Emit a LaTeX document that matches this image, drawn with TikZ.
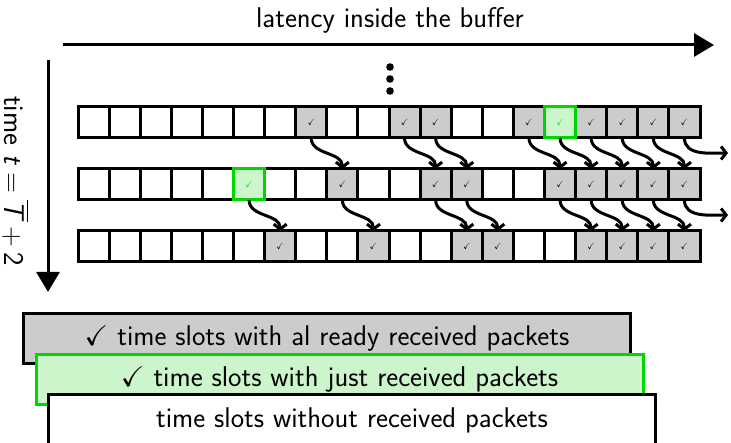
\documentclass[tikz,border=0pt]{standalone}
\usepackage{amssymb}
\usepackage{fontspec}
\usetikzlibrary{arrows.meta}
\definecolor{cellgray}{RGB}{204,204,204}
\definecolor{brightgreen}{RGB}{0,215,0}
\definecolor{palegreen}{RGB}{204,245,204}
\newcommand\tickmark{$\checkmark$}
\newcommand\bufcell[4]{\node[cell,#3] (c#1-#2) at ({78+31.1*(#2+0.5)},{122.5+62*(#1-1)}) {#4};}
\begin{document}
\begin{tikzpicture}[x=1pt,y=-1pt,
  every node/.style={font=\sffamily\fontsize{28.5}{32}\selectfont},
  cell/.style={draw, line width=3pt, minimum width=31.1pt, minimum height=31pt,
    inner sep=0pt, outer sep=0pt, fill=white, font=\fontsize{9}{9}\selectfont},
  graycell/.style={fill=cellgray},
  greencell/.style={fill=palegreen, draw=brightgreen, text=brightgreen},
  flow/.style={line width=3pt, -{Straight Barb[length=5pt,width=13pt]}},
  axis/.style={line width=3pt, -{Triangle[length=20pt,width=23pt]}},
  legend/.style={draw, line width=3pt, minimum width=607pt, minimum height=50pt, inner sep=0pt}
]
\useasboundingbox (0,0) rectangle (731,443);

% axes
\coordinate (hstart) at (63,45);
\coordinate (hend) at (714,45);
\draw[axis] (hstart) -- (hend);
\node[anchor=base] (hlabel) at (390,28) {latency inside the buffer};
\coordinate (vstart) at (48,60);
\coordinate (vend) at (48,292);
\draw[axis] (vstart) -- (vend);
\node[rotate=-90, inner sep=0pt] (vlabel) at (16,181)
  {time \textit{t}\hspace{7pt}=\hspace{7pt}$\overline{\hbox{\textit{T}}}$\hspace{5pt}+\hspace{5pt}2};

% dots
\foreach \yy in {67,79,91} {\fill (390,\yy) circle (3.8);}

% row 1
\foreach \i in {0,...,6,8,9,12,13} {\bufcell{1}{\i}{}{}}
\foreach \i in {7,10,11,14,16,17,18,19} {\bufcell{1}{\i}{graycell}{\tickmark}}
\bufcell{1}{15}{greencell}{\tickmark}
% row 2
\foreach \i in {0,...,4,6,7,9,10,13,14} {\bufcell{2}{\i}{}{}}
\foreach \i in {8,11,12,15,16,17,18,19} {\bufcell{2}{\i}{graycell}{\tickmark}}
\bufcell{2}{5}{greencell}{\tickmark}
% row 3
\foreach \i in {0,...,5,7,8,10,11,14,15} {\bufcell{3}{\i}{}{}}
\foreach \i in {6,9,12,13,16,17,18,19} {\bufcell{3}{\i}{graycell}{\tickmark}}

% shifting arrows
\foreach \i in {7,10,11,14,15,16,17,18} {
  \pgfmathtruncatemacro\j{\i+1}
  \draw[flow] (c1-\i.south) to[out=-90,in=90] (c2-\j.north);
}
\foreach \i in {5,8,11,12,15,16,17,18} {
  \pgfmathtruncatemacro\j{\i+1}
  \draw[flow] (c2-\i.south) to[out=-90,in=90] (c3-\j.north);
}
\coordinate (out1) at (728,153);
\coordinate (out2) at (728,215);
\draw[flow] (c1-19.south) to[out=-90,in=180] (out1);
\draw[flow] (c2-19.south) to[out=-90,in=180] (out2);

% legend
\node[legend, fill=cellgray] (lg1) at (327,339) {\tickmark\ time slots with al ready received packets};
\node[legend, fill=palegreen, draw=brightgreen] (lg2) at (339.5,380) {\tickmark\ time slots with just received packets};
\node[legend, fill=white] (lg3) at (352,420) {time slots without received packets};
\end{tikzpicture}
\end{document}
